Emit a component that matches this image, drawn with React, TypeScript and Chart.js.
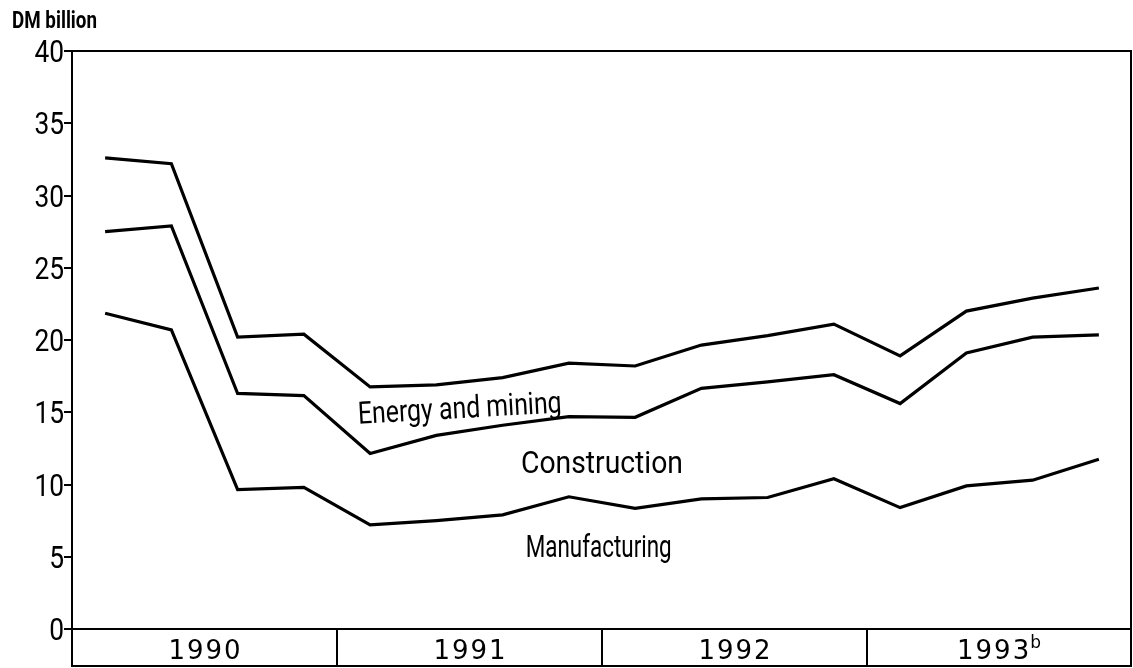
import React, { useEffect, useRef } from "react";
import { Chart, registerables } from "chart.js";

Chart.register(...registerables);

// ---- data ----
const quarterLabels = [
  "1990 Q1", "1990 Q2", "1990 Q3", "1990 Q4",
  "1991 Q1", "1991 Q2", "1991 Q3", "1991 Q4",
  "1992 Q1", "1992 Q2", "1992 Q3", "1992 Q4",
  "1993 Q1", "1993 Q2", "1993 Q3", "1993 Q4",
];
const yearLabels = ["1990", "1991", "1992", "1993"];
const yearNotes = ["", "", "", "b"];

// cumulative (stacked) levels, DM billion
const energyAndMiningLine = [32.6, 32.2, 20.2, 20.4, 16.75, 16.9, 17.4, 18.4, 18.2, 19.65, 20.3, 21.1, 18.9, 22.0, 22.9, 23.6];
const constructionLine = [27.5, 27.9, 16.3, 16.15, 12.15, 13.4, 14.1, 14.7, 14.65, 16.65, 17.1, 17.6, 15.6, 19.1, 20.2, 20.35];
const manufacturingLine = [21.85, 20.7, 9.65, 9.8, 7.2, 7.5, 7.9, 9.15, 8.35, 9.0, 9.1, 10.4, 8.4, 9.9, 10.3, 11.75];

const yMin = 0;
const yMax = 40;
const yStep = 5;
const unitLabel = "DM billion";
const seriesNames = ["Energy and mining", "Construction", "Manufacturing"];

const FONT = "Roboto, 'Liberation Sans', sans-serif";

function fitText(
  ctx: CanvasRenderingContext2D,
  text: string,
  x: number,
  y: number,
  font: string,
  width: number,
  align: CanvasTextAlign,
  rotation = 0
) {
  ctx.save();
  ctx.font = font;
  const w = ctx.measureText(text).width;
  const s = width / w;
  ctx.translate(x, y);
  if (rotation) ctx.rotate(rotation);
  ctx.scale(s, 1);
  ctx.textAlign = align;
  ctx.textBaseline = "alphabetic";
  ctx.fillStyle = "#000";
  ctx.fillText(text, 0, 0);
  ctx.restore();
}

const decorPlugin = {
  id: "decor",
  afterDraw(chart: any) {
    const ctx: CanvasRenderingContext2D = chart.ctx;
    const { left, right, top, bottom } = chart.chartArea;
    const xs = chart.scales.x;
    const ys = chart.scales.y;
    const bandBottom = bottom + 37;

    ctx.save();
    ctx.strokeStyle = "#000";
    ctx.lineWidth = 2;
    ctx.lineCap = "butt";
    ctx.beginPath();
    ctx.moveTo(left - 1, top);
    ctx.lineTo(right, top);
    ctx.moveTo(right - 1, top);
    ctx.lineTo(right - 1, bandBottom + 1);
    ctx.moveTo(left, bottom);
    ctx.lineTo(right, bottom);
    ctx.moveTo(left - 1, bandBottom);
    ctx.lineTo(right, bandBottom);
    ctx.moveTo(left, bottom);
    ctx.lineTo(left, bandBottom + 1);
    for (let k = 1; k < yearLabels.length; k++) {
      const i = k * 4;
      const xb = Math.round((xs.getPixelForValue(i - 1) + xs.getPixelForValue(i)) / 2);
      ctx.moveTo(xb, bottom);
      ctx.lineTo(xb, bandBottom);
    }
    ctx.stroke();
    ctx.restore();

    // y tick labels
    for (const t of ys.ticks) {
      const py = ys.getPixelForValue(t.value);
      ctx.save();
      ctx.font = `31px ${FONT}`;
      ctx.translate(64, py + 11);
      ctx.scale(0.85, 1);
      ctx.textAlign = "right";
      ctx.textBaseline = "alphabetic";
      ctx.fillStyle = "#000";
      ctx.fillText(String(t.value), 0, 0);
      ctx.restore();
    }

    // year labels
    for (let k = 0; k < yearLabels.length; k++) {
      const x0 = k === 0 ? left : (xs.getPixelForValue(k * 4 - 1) + xs.getPixelForValue(k * 4)) / 2;
      const x1 = k === yearLabels.length - 1 ? right : (xs.getPixelForValue(k * 4 + 3) + xs.getPixelForValue(k * 4 + 4)) / 2;
      const cx = (x0 + x1) / 2;
      ctx.save();
      ctx.fillStyle = "#000";
      ctx.font = `26px 'DejaVu Sans', sans-serif`;
      (ctx as any).letterSpacing = "2px";
      const w = ctx.measureText(yearLabels[k]).width;
      let noteW = 0;
      if (yearNotes[k]) {
        ctx.save();
        ctx.font = `17px 'DejaVu Sans', sans-serif`;
        (ctx as any).letterSpacing = "0px";
        noteW = ctx.measureText(yearNotes[k]).width;
        ctx.restore();
      }
      const startX = cx - (w + noteW) / 2 + (noteW ? 0 : 1);
      ctx.textAlign = "left";
      ctx.textBaseline = "alphabetic";
      ctx.fillText(yearLabels[k], startX, bottom + 30);
      if (yearNotes[k]) {
        ctx.font = `17px 'DejaVu Sans', sans-serif`;
        (ctx as any).letterSpacing = "0px";
        ctx.fillText(yearNotes[k], startX + w - 1, bottom + 19);
      }
      ctx.restore();
    }

    // unit label
    fitText(ctx, unitLabel, 12, 28, `bold 23px ${FONT}`, 85, "left");

    // series labels (anchored through the scales)
    fitText(ctx, seriesNames[0], xs.getPixelForValue(5.36), ys.getPixelForValue(14.6), `31px ${FONT}`, 204, "center", -3.2 * Math.PI / 180);
    fitText(ctx, seriesNames[1], xs.getPixelForValue(7.5), ys.getPixelForValue(10.8), `31px ${FONT}`, 162, "center");
    fitText(ctx, seriesNames[2], xs.getPixelForValue(7.45), ys.getPixelForValue(5.0), `31px ${FONT}`, 146, "center");
  },
};

export default function App() {
  const canvasRef = useRef<HTMLCanvasElement | null>(null);

  useEffect(() => {
    const canvas = canvasRef.current;
    if (!canvas) return;
    const lineStyle = {
      borderColor: "#000",
      borderWidth: 3.2,
      pointRadius: 0,
      tension: 0,
      fill: false,
    };
    const chart = new Chart(canvas, {
      type: "line",
      data: {
        labels: quarterLabels,
        datasets: [
          { label: seriesNames[0], data: energyAndMiningLine, ...lineStyle },
          { label: seriesNames[1], data: constructionLine, ...lineStyle },
          { label: seriesNames[2], data: manufacturingLine, ...lineStyle },
        ],
      },
      options: {
        responsive: false,
        animation: false,
        devicePixelRatio: 1,
        layout: { padding: { left: 0, top: 51, right: 1, bottom: 39 } },
        plugins: {
          legend: { display: false },
          tooltip: { enabled: false },
        },
        scales: {
          x: {
            type: "category",
            offset: true,
            display: false,
          },
          y: {
            min: yMin,
            max: yMax,
            ticks: { stepSize: yStep, display: false },
            grid: {
              drawOnChartArea: false,
              drawTicks: true,
              tickLength: 8,
              color: "#000",
              lineWidth: 2,
            },
            border: { display: true, color: "#000", width: 2 },
            afterFit: (scale: any) => {
              scale.width = 72;
            },
          },
        },
      },
      plugins: [decorPlugin],
    } as any);
    return () => chart.destroy();
  }, []);

  return (
    <div style={{ position: "fixed", left: 0, top: 0, width: 1133, height: 668, background: "#fff" }}>
      <canvas ref={canvasRef} width={1133} height={668} style={{ display: "block" }} />
    </div>
  );
}
